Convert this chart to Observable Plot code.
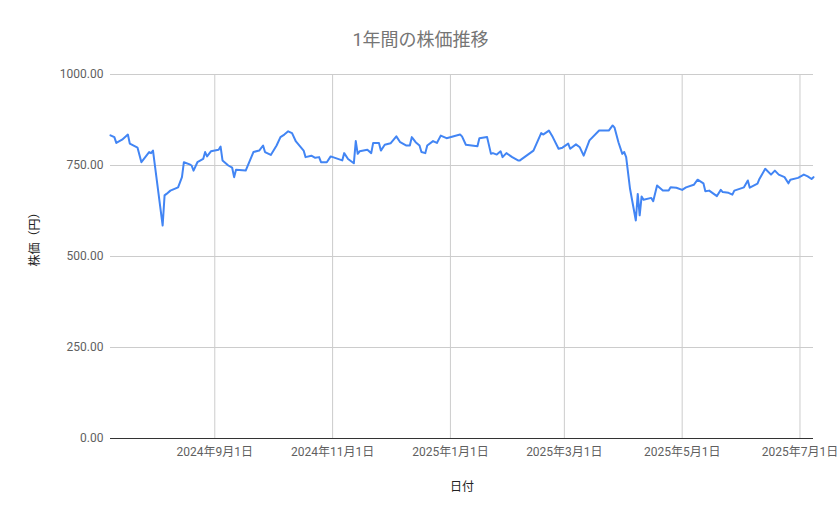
<!DOCTYPE html>
<html>
<head>
<meta charset="utf-8">
<script src="https://cdn.jsdelivr.net/npm/d3@7"></script>
<script src="https://cdn.jsdelivr.net/npm/@observablehq/plot@0.6"></script>
<style>
  html, body { margin: 0; padding: 0; background: #fff; }
  #chart { width: 839px; height: 519px; }
</style>
</head>
<body>
<div id="chart"></div>
<script>
const titleText = "1年間の株価推移";
const xTitle = "日付";
const yTitle = "株価（円）";

const dates = [
  "2024-07-09","2024-07-11","2024-07-12","2024-07-15","2024-07-18","2024-07-19","2024-07-23","2024-07-25","2024-07-29","2024-07-30","2024-07-31",
  "2024-08-05","2024-08-06","2024-08-07","2024-08-09","2024-08-13","2024-08-15","2024-08-16","2024-08-19","2024-08-20","2024-08-21","2024-08-23","2024-08-26","2024-08-27","2024-08-28","2024-08-30",
  "2024-09-03","2024-09-04","2024-09-05","2024-09-08","2024-09-10","2024-09-11","2024-09-12","2024-09-17","2024-09-21","2024-09-24","2024-09-26","2024-09-27","2024-09-30",
  "2024-10-03","2024-10-05","2024-10-07","2024-10-09","2024-10-11","2024-10-13","2024-10-17","2024-10-18","2024-10-21","2024-10-23","2024-10-25","2024-10-26","2024-10-29","2024-10-31",
  "2024-11-06","2024-11-07","2024-11-09","2024-11-12","2024-11-13","2024-11-14","2024-11-15","2024-11-19","2024-11-21","2024-11-22","2024-11-25","2024-11-26","2024-11-28",
  "2024-12-01","2024-12-04","2024-12-06","2024-12-09","2024-12-11","2024-12-12","2024-12-14","2024-12-16","2024-12-17","2024-12-19","2024-12-20","2024-12-23","2024-12-25","2024-12-27","2024-12-30",
  "2025-01-06","2025-01-07","2025-01-09","2025-01-15","2025-01-16","2025-01-20","2025-01-22","2025-01-23","2025-01-25","2025-01-27","2025-01-28","2025-01-30",
  "2025-02-02","2025-02-05","2025-02-06","2025-02-13","2025-02-17","2025-02-18","2025-02-21","2025-02-23","2025-02-26","2025-02-28",
  "2025-03-03","2025-03-04","2025-03-07","2025-03-09","2025-03-11","2025-03-14","2025-03-19","2025-03-24","2025-03-26","2025-03-27","2025-03-29","2025-03-31",
  "2025-04-01","2025-04-02","2025-04-04","2025-04-07","2025-04-08","2025-04-09","2025-04-10","2025-04-11","2025-04-15","2025-04-16","2025-04-18","2025-04-21","2025-04-24","2025-04-25","2025-04-28",
  "2025-05-01","2025-05-03","2025-05-07","2025-05-09","2025-05-12","2025-05-13","2025-05-15","2025-05-19","2025-05-21","2025-05-22","2025-05-25","2025-05-27","2025-05-28",
  "2025-06-02","2025-06-04","2025-06-05","2025-06-09","2025-06-10","2025-06-13","2025-06-16","2025-06-18","2025-06-20","2025-06-23","2025-06-25","2025-06-26","2025-06-30",
  "2025-07-03","2025-07-05","2025-07-07","2025-07-08"
];

const prices = [
  833,828,812,821,835,810,799,759,787,784,791,
  585,668,672,681,690,718,759,753,750,736,759,768,787,775,789,
  793,802,764,750,744,718,738,736,787,791,805,787,779,
  805,828,835,844,839,816,791,773,777,771,773,759,759,775,
  764,784,768,756,817,782,789,793,784,812,812,791,807,
  811,830,814,805,805,828,814,805,787,784,805,817,812,832,825,
  835,830,807,803,825,828,782,784,780,789,773,784,
  773,764,764,791,839,835,846,828,796,799,
  810,796,808,800,777,819,846,846,860,854,814,782,
  787,773,686,599,672,613,665,656,661,652,695,681,681,690,689,
  683,690,697,711,701,679,681,666,683,677,675,670,681,
  690,709,689,700,713,741,725,736,725,718,701,711,716,
  725,720,713,718
];

const xTickDates = ["2024-09-01","2024-11-01","2025-01-01","2025-03-01","2025-05-01","2025-07-01"];
const yTickValues = [0, 250, 500, 750, 1000];
const xDomain = ["2024-07-09", "2025-07-08"];
const yDomain = [0, 1000];

const parse = d3.utcParse("%Y-%m-%d");
const data = dates.map((d, i) => ({date: parse(d), price: prices[i]}));
const xTicks = xTickDates.map(parse);
const fmtDate = d => `${d.getUTCFullYear()}年${d.getUTCMonth() + 1}月${d.getUTCDate()}日`;

const chart = Plot.plot({
  width: 839,
  height: 519,
  marginLeft: 110,
  marginRight: 26,
  marginTop: 74,
  marginBottom: 81,
  style: {
    fontFamily: 'Roboto, "Noto Sans CJK JP", sans-serif',
    fontSize: "12px",
    background: "#fff",
    overflow: "visible"
  },
  x: {type: "utc", domain: xDomain.map(parse)},
  y: {domain: yDomain},
  marks: [
    Plot.gridX(xTicks, {stroke: "#cccccc", strokeOpacity: 1}),
    Plot.gridY(yTickValues.filter(v => v > 0), {stroke: "#cccccc", strokeOpacity: 1}),
    Plot.line(data, {x: "date", y: "price", stroke: "#4285f4", strokeWidth: 2, strokeLinejoin: "round"}),
    Plot.ruleY([0], {stroke: "#333333", strokeWidth: 1}),
    Plot.axisX(xTicks, {tickSize: 0, tickPadding: 9, tickFormat: fmtDate, fill: "#5f5f5f", label: null}),
    Plot.axisY(yTickValues, {tickSize: 0, tickPadding: 7, tickFormat: d3.format(".2f"), fill: "#5f5f5f", label: null}),
    Plot.text([titleText], {frameAnchor: "top", dx: -41.5, dy: -34, lineAnchor: "middle", fontSize: 18, fill: "#757575"}),
    Plot.text([xTitle], {frameAnchor: "bottom", dy: 49, lineAnchor: "middle", fontSize: 12, fill: "#222222"}),
    Plot.text([yTitle], {frameAnchor: "left", dx: -75, dy: 10, rotate: -90, lineAnchor: "middle", fontSize: 12, fill: "#222222"})
  ]
});

document.getElementById("chart").appendChild(chart);
</script>
</body>
</html>
